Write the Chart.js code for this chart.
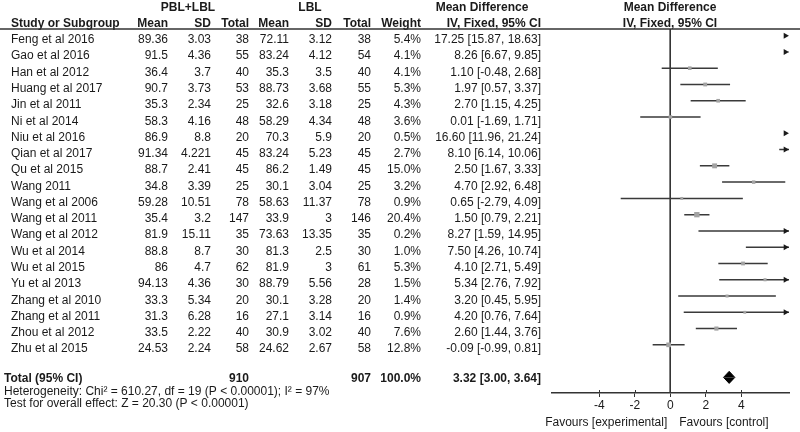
<!DOCTYPE html>
<html>
<head>
<meta charset="utf-8">
<script src="https://cdn.jsdelivr.net/npm/chart.js@4.4.0/dist/chart.umd.min.js"></script>
<style>
  body { margin: 0; background: #fff; }
  canvas { display: block; }
</style>
</head>
<body>
<canvas id="forest" width="800" height="432"></canvas>
<script>
// study table
const studies = ['Feng et al 2016', 'Gao et al 2016', 'Han et al 2012', 'Huang et al 2017', 'Jin et al 2011',
  'Ni et al 2014', 'Niu et al 2016', 'Qian et al 2017', 'Qu et al 2015', 'Wang 2011', 'Wang et al 2006',
  'Wang et al 2011', 'Wang et al 2012', 'Wu et al 2014', 'Wu et al 2015', 'Yu et al 2013', 'Zhang et al 2010',
  'Zhang et al 2011', 'Zhou et al 2012', 'Zhu et al 2015'];
const expMean = [89.36, 91.5, 36.4, 90.7, 35.3, 58.3, 86.9, 91.34, 88.7, 34.8, 59.28, 35.4, 81.9, 88.8, 86, 94.13, 33.3, 31.3, 33.5, 24.53];
const expSD = [3.03, 4.36, 3.7, 3.73, 2.34, 4.16, 8.8, 4.221, 2.41, 3.39, 10.51, 3.2, 15.11, 8.7, 4.7, 4.36, 5.34, 6.28, 2.22, 2.24];
const expN = [38, 55, 40, 53, 25, 48, 20, 45, 45, 25, 78, 147, 35, 30, 62, 30, 20, 16, 40, 58];
const ctlMean = [72.11, 83.24, 35.3, 88.73, 32.6, 58.29, 70.3, 83.24, 86.2, 30.1, 58.63, 33.9, 73.63, 81.3, 81.9, 88.79, 30.1, 27.1, 30.9, 24.62];
const ctlSD = [3.12, 4.12, 3.5, 3.68, 3.18, 4.34, 5.9, 5.23, 1.49, 3.04, 11.37, 3, 13.35, 2.5, 3, 5.56, 3.28, 3.14, 3.02, 2.67];
const ctlN = [38, 54, 40, 55, 25, 48, 20, 45, 45, 25, 78, 146, 35, 30, 61, 28, 20, 16, 40, 58];
const weight = [5.4, 4.1, 4.1, 5.3, 4.3, 3.6, 0.5, 2.7, 15.0, 3.2, 0.9, 20.4, 0.2, 1.0, 5.3, 1.5, 1.4, 0.9, 7.6, 12.8];
const md = [17.25, 8.26, 1.10, 1.97, 2.70, 0.01, 16.60, 8.10, 2.50, 4.70, 0.65, 1.50, 8.27, 7.50, 4.10, 5.34, 3.20, 4.20, 2.60, -0.09];
const ciLo = [15.87, 6.67, -0.48, 0.57, 1.15, -1.69, 11.96, 6.14, 1.67, 2.92, -2.79, 0.79, 1.59, 4.26, 2.71, 2.76, 0.45, 0.76, 1.44, -0.99];
const ciHi = [18.63, 9.85, 2.68, 3.37, 4.25, 1.71, 21.24, 10.06, 3.33, 6.48, 4.09, 2.21, 14.95, 10.74, 5.49, 7.92, 5.95, 7.64, 3.76, 0.81];

// pooled result
const totalExpN = 910;
const totalCtlN = 907;
const totalMD = 3.32;
const totalLo = 3.00;
const totalHi = 3.64;
const totalRow = 21;

const tickVals = [-4, -2, 0, 2, 4];
const xMin = -6.66;
const xMax = 6.69;
const yMin = -0.41;
const yMax = 21.96;

const FONT = '"Liberation Sans", Arial, sans-serif';
const clamp = v => Math.max(xMin, Math.min(xMax, v));

// CI segments, broken with null points
const ciData = [];
studies.forEach((s, i) => {
  ciData.push({ x: clamp(ciLo[i]), y: i }, { x: clamp(ciHi[i]), y: i }, { x: null, y: null });
});
const pointData = studies.map((s, i) => ({ x: md[i], y: i }));
const pointSize = weight.map(w => (2.2 + Math.sqrt(w) * 0.7) / Math.SQRT2);
const arrowData = [];
studies.forEach((s, i) => {
  if (ciHi[i] > xMax) arrowData.push({ x: xMax - 0.2, y: i });
});

const tablePlugin = {
  id: 'table',
  afterDraw(chart) {
    const ctx = chart.ctx;
    const ys = chart.scales.y;
    const xs = chart.scales.x;
    const area = chart.chartArea;
    ctx.save();
    ctx.fillStyle = '#1a1a1a';
    ctx.textBaseline = 'alphabetic';
    const txt = (s, x, y, align, bold) => {
      ctx.font = (bold ? 'bold ' : '') + '12px ' + FONT;
      ctx.textAlign = align;
      ctx.fillText(s, x, y);
    };

    // header
    txt('PBL+LBL', 188, 10.5, 'center', true);
    txt('LBL', 310, 10.5, 'center', true);
    txt('Mean Difference', 482, 10.5, 'center', true);
    txt('Mean Difference', 670, 10.5, 'center', true);
    txt('Study or Subgroup', 11, 26.5, 'left', true);
    txt('Mean', 168, 26.5, 'right', true);
    txt('SD', 211, 26.5, 'right', true);
    txt('Total', 249, 26.5, 'right', true);
    txt('Mean', 289, 26.5, 'right', true);
    txt('SD', 332, 26.5, 'right', true);
    txt('Total', 371, 26.5, 'right', true);
    txt('Weight', 421, 26.5, 'right', true);
    txt('IV, Fixed, 95% CI', 541, 26.5, 'right', true);
    txt('IV, Fixed, 95% CI', 670, 26.5, 'center', true);

    ctx.strokeStyle = '#333';
    ctx.lineWidth = 1.5;
    ctx.beginPath();
    ctx.moveTo(0, area.top);
    ctx.lineTo(800, area.top);
    ctx.stroke();

    // study rows
    studies.forEach((s, i) => {
      const by = ys.getPixelForValue(i) + 7.5;
      txt(s, 11, by, 'left');
      txt(String(expMean[i]), 168, by, 'right');
      txt(String(expSD[i]), 211, by, 'right');
      txt(String(expN[i]), 249, by, 'right');
      txt(String(ctlMean[i]), 289, by, 'right');
      txt(String(ctlSD[i]), 332, by, 'right');
      txt(String(ctlN[i]), 371, by, 'right');
      txt(weight[i].toFixed(1) + '%', 421, by, 'right');
      txt(md[i].toFixed(2) + ' [' + ciLo[i].toFixed(2) + ', ' + ciHi[i].toFixed(2) + ']', 541, by, 'right');
    });

    // total
    const ty = ys.getPixelForValue(totalRow) + 5;
    txt('Total (95% CI)', 4, ty, 'left', true);
    txt(String(totalExpN), 249, ty, 'right', true);
    txt(String(totalCtlN), 371, ty, 'right', true);
    txt('100.0%', 421, ty, 'right', true);
    txt(totalMD.toFixed(2) + ' [' + totalLo.toFixed(2) + ', ' + totalHi.toFixed(2) + ']', 541, ty, 'right', true);
    txt('Heterogeneity: Chi\u00B2 = 610.27, df = 19 (P < 0.00001); I\u00B2 = 97%', 4, ty + 13, 'left');
    txt('Test for overall effect: Z = 20.30 (P < 0.00001)', 4, ty + 24.5, 'left');

    // upper halves of tick marks
    ctx.strokeStyle = '#333';
    ctx.lineWidth = 1;
    xs.ticks.forEach(t => {
      const px = Math.round(xs.getPixelForValue(t.value)) + 0.5;
      ctx.beginPath();
      ctx.moveTo(px, area.bottom - 3);
      ctx.lineTo(px, area.bottom);
      ctx.stroke();
    });

    const x0 = xs.getPixelForValue(0);
    txt('Favours [experimental]', x0 - 3, 425.5, 'right');
    txt('Favours [control]', x0 + 9, 425.5, 'left');
    ctx.restore();
  }
};

new Chart(document.getElementById('forest'), {
  type: 'scatter',
  data: {
    datasets: [
      {
        label: 'zero',
        data: [{ x: 0, y: yMin }, { x: 0, y: yMax }],
        showLine: true,
        borderColor: '#333',
        borderWidth: 1,
        pointRadius: 0,
        order: 5
      },
      {
        label: 'ci',
        data: ciData,
        showLine: true,
        spanGaps: false,
        borderColor: '#3a3a3a',
        borderWidth: 1.5,
        pointRadius: 0,
        order: 4
      },
      {
        label: 'arrows',
        data: arrowData,
        pointStyle: 'triangle',
        rotation: 90,
        pointRadius: 3.5,
        backgroundColor: '#1a1a1a',
        borderColor: '#1a1a1a',
        borderWidth: 0,
        clip: false,
        order: 3
      },
      {
        label: 'md',
        data: pointData,
        pointStyle: 'rect',
        pointRadius: pointSize,
        backgroundColor: '#a3a3a3',
        borderWidth: 0,
        order: 2
      },
      {
        label: 'diamondTop',
        data: [{ x: totalLo, y: totalRow }, { x: totalMD, y: totalRow - 0.37 }, { x: totalHi, y: totalRow }],
        showLine: true,
        tension: 0,
        borderColor: '#000',
        borderWidth: 1,
        backgroundColor: '#000',
        fill: { value: totalRow },
        pointRadius: 0,
        order: 1
      },
      {
        label: 'diamondBottom',
        data: [{ x: totalLo, y: totalRow }, { x: totalMD, y: totalRow + 0.37 }, { x: totalHi, y: totalRow }],
        showLine: true,
        tension: 0,
        borderColor: '#000',
        borderWidth: 1,
        backgroundColor: '#000',
        fill: { value: totalRow },
        pointRadius: 0,
        order: 1
      }
    ]
  },
  options: {
    responsive: false,
    animation: false,
    devicePixelRatio: 1,
    layout: { padding: { left: 552, right: 11, top: 29, bottom: 0 } },
    plugins: {
      legend: { display: false },
      tooltip: { enabled: false },
      filler: { propagate: false }
    },
    scales: {
      x: {
        type: 'linear',
        min: xMin,
        max: xMax,
        afterBuildTicks: s => { s.ticks = tickVals.map(v => ({ value: v })); },
        afterFit: s => { s.height = 39; },
        grid: { display: true, drawOnChartArea: false, drawTicks: true, tickLength: 4, color: '#333' },
        border: { display: true, color: '#333', width: 1.5 },
        ticks: { color: '#1a1a1a', padding: 1, font: { family: FONT, size: 12 } }
      },
      y: {
        type: 'linear',
        display: false,
        reverse: true,
        min: yMin,
        max: yMax
      }
    }
  },
  plugins: [tablePlugin]
});
</script>
</body>
</html>
